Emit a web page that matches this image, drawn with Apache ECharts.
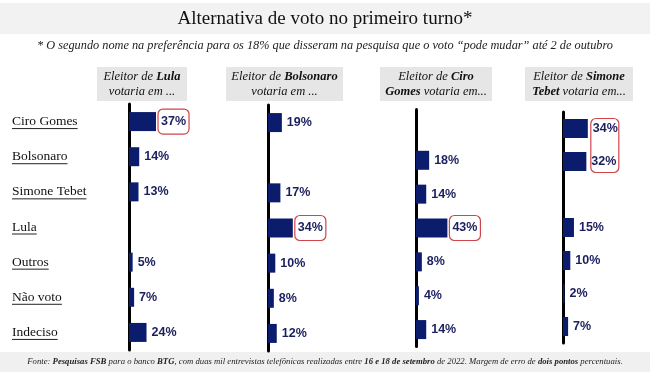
<!DOCTYPE html>
<html><head><meta charset="utf-8">
<script src="https://cdn.jsdelivr.net/npm/echarts@6/dist/echarts.min.js"></script>
<style>html,body{margin:0;padding:0;background:#fff}#c{width:650px;height:372px}</style>
</head><body><div id="c"></div>
<script>
var categories = ['Ciro Gomes','Bolsonaro','Simone Tebet','Lula','Outros','Não voto','Indeciso'];
var lulaVoters = [37,14,13,null,5,7,24];
var bolsonaroVoters = [19,null,17,34,10,8,12];
var ciroVoters = [null,18,14,43,8,4,14];
var simoneVoters = [34,32,null,15,10,2,7];
var panelHeaders = [
  ['Eleitor de {b|Lula}','votaria em ...'],
  ['Eleitor de {b|Bolsonaro}','votaria em ...'],
  ['Eleitor de {b|Ciro}','{b|Gomes} votaria em...'],
  ['Eleitor de {b|Simone}','{b|Tebet} votaria em...']
];
var highlightSingle = [[0],[3],[3],[]];   // category indexes boxed individually
var highlightGroup = [null,null,null,[0,1]]; // boxed together
var titleText = 'Alternativa de voto no primeiro turno*';
var subtitleText = '* O segundo nome na preferência para os 18% que disseram na pesquisa que o voto “pode mudar” até 2 de outubro';
var footerText = 'Fonte: {b|Pesquisas FSB} para o banco {b|BTG}, com duas mil entrevistas telefônicas realizadas entre {b|16 e 18 de setembro} de 2022. Margem de erro de {b|dois pontos} percentuais.';

var panels = [lulaVoters, bolsonaroVoters, ciroVoters, simoneVoters];
var gridDefs = [
  {left:129, top:104, height:246},
  {left:268, top:105, height:246},
  {left:416, top:109.5, height:237},
  {left:563, top:112, height:231}
];
var headerBoxes = [[97,187],[226,343],[380,492],[525,633]];
var SERIF = '"Liberation Serif","Times New Roman",serif';
var SANS = '"Liberation Sans",Arial,sans-serif';
var BAR = '#0c1c6c', LBL = '#1b1f5e', RED = '#d0454a';

var chart = echarts.init(document.getElementById('c'), null, {renderer:'canvas'});
var grids = [], xAxes = [], yAxes = [], series = [];
panels.forEach(function(vals, p){
  grids.push({left:gridDefs[p].left, top:gridDefs[p].top, height:gridDefs[p].height, width:73, containLabel:false});
  xAxes.push({type:'value', gridIndex:p, min:0, max:100, show:false});
  yAxes.push({type:'category', gridIndex:p, data:categories, inverse:true,
    axisLine:{show:true, lineStyle:{color:'#000', width:3}}, axisTick:{show:false},
    axisLabel: p===0 ? {show:true, align:'left', margin:117, fontFamily:SERIF, fontSize:13.5, color:'#111'} : {show:false},
    splitLine:{show:false}});
  var data = vals.map(function(v, i){
    if (v === null) return '-';
    if (highlightSingle[p].indexOf(i) >= 0) {
      return {value:v, label:{distance:2, padding:[6,3,6,3], borderColor:RED, borderWidth:1.2, borderRadius:5}};
    }
    return v;
  });
  series.push({type:'bar', xAxisIndex:p, yAxisIndex:p, data:data, barWidth:19,
    itemStyle:{color:BAR},
    label:{show:true, position:'right', distance:5, formatter:'{c}%', fontFamily:SANS, fontWeight:'bold', fontSize:12.5, color:LBL}});
});

chart.setOption({
  animation:false,
  grid:grids, xAxis:xAxes, yAxis:yAxes, series:series
});

// decorative graphics
var g = [];
g.push({type:'rect', shape:{x:0,y:3,width:650,height:31}, style:{fill:'#f2f2f2'}, silent:true, z:-10});
g.push({type:'text', x:325, y:19, style:{text:titleText, font:'19px '+SERIF, fill:'#111', align:'center', verticalAlign:'middle'}});
g.push({type:'text', x:325, y:46, style:{text:subtitleText, font:'italic 12.3px '+SERIF, fill:'#222', align:'center', verticalAlign:'middle'}});
g.push({type:'rect', shape:{x:0,y:352,width:650,height:20}, style:{fill:'#f0f0f0'}, silent:true, z:-10});
g.push({type:'text', x:325, y:362, style:{text:footerText, font:'italic 8.7px '+SERIF, fill:'#222', align:'center', verticalAlign:'middle',
  rich:{b:{font:'italic bold 8.7px '+SERIF, fill:'#222'}}}});
headerBoxes.forEach(function(b, p){
  g.push({type:'rect', shape:{x:b[0], y:67, width:b[1]-b[0], height:34}, style:{fill:'#e6e6e6'}, z:-5});
  g.push({type:'text', x:(b[0]+b[1])/2, y:84, style:{text:panelHeaders[p].join('\n'), font:'italic 12.5px '+SERIF, fill:'#111',
    align:'center', verticalAlign:'middle', lineHeight:15,
    rich:{b:{font:'italic bold 12.5px '+SERIF, fill:'#111', lineHeight:15}}}});
});
// underlines for row labels
var ctx = document.createElement('canvas').getContext('2d');
ctx.font = '13.5px "Liberation Serif"';
categories.forEach(function(c, i){
  var y = chart.convertToPixel({yAxisIndex:0}, c);
  var w = ctx.measureText(c).width;
  g.push({type:'line', shape:{x1:12, y1:y+7, x2:12+w, y2:y+7}, style:{stroke:'#222', lineWidth:1}});
});
// grouped highlight box
highlightGroup.forEach(function(grp, p){
  if (!grp) return;
  var vals = grp.map(function(i){return panels[p][i];});
  var xEnd = chart.convertToPixel({xAxisIndex:p}, Math.max.apply(null, vals));
  var y0 = chart.convertToPixel({yAxisIndex:p}, categories[grp[0]]);
  var y1 = chart.convertToPixel({yAxisIndex:p}, categories[grp[grp.length-1]]);
  g.push({type:'rect', shape:{x:xEnd+3, y:y0-10, width:28, height:(y1-y0)+21, r:5},
    style:{fill:null, stroke:RED, lineWidth:1.2}});
});
chart.setOption({graphic:g});
</script>
</body></html>
